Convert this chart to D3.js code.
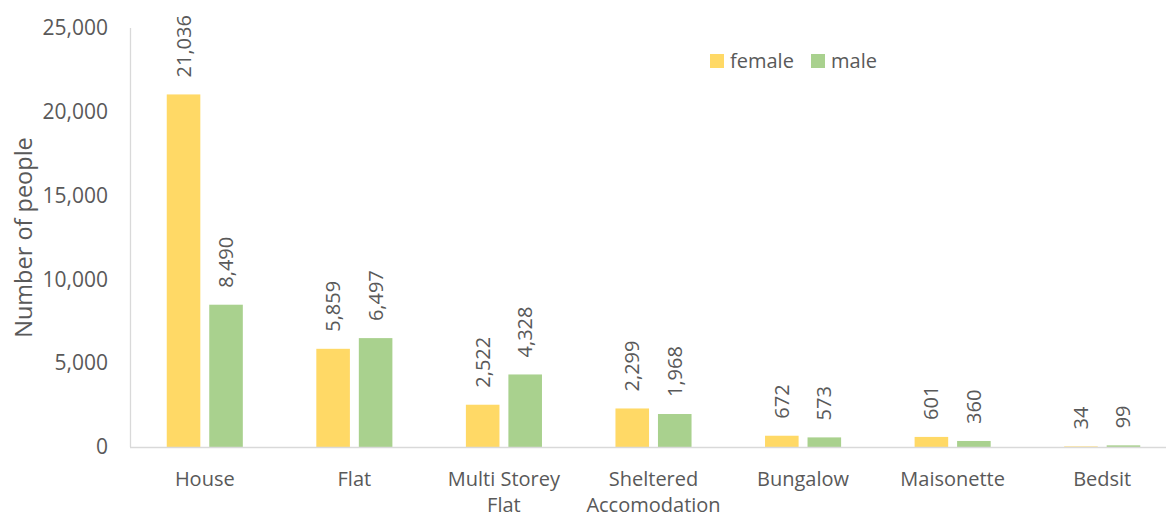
<!DOCTYPE html>
<html lang="en">
<head>
<meta charset="utf-8">
<title>Number of people by accommodation type</title>
<script src="https://cdn.jsdelivr.net/npm/d3@7"></script>
<style>
  body { margin: 0; background: #fff; }
  text { font-family: "Open Sans", sans-serif; fill: #595959; }
</style>
</head>
<body>
<script>
// data
var categories = ["House", "Flat", "Multi Storey Flat", "Sheltered Accomodation", "Bungalow", "Maisonette", "Bedsit"];
var female = [21036, 5859, 2522, 2299, 672, 601, 34];
var male = [8490, 6497, 4328, 1968, 573, 360, 99];
var seriesNames = ["female", "male"];
var yTicks = [0, 5000, 10000, 15000, 20000, 25000];

var w = 1166, h = 517;
var plotLeft = 130, plotRight = 1177, plotTop = 28, plotBottom = 447;
var colors = { female: "#FFD966", male: "#A9D18E" };
var fmt = d3.format(",");

var svg = d3.select("body").append("svg")
  .attr("width", w)
  .attr("height", h);

var x = d3.scaleBand()
  .domain(categories)
  .range([plotLeft, plotRight])
  .paddingInner(0.4914)
  .paddingOuter(0.2457);

var x1 = d3.scaleBand()
  .domain(seriesNames)
  .range([0, x.bandwidth()])
  .paddingInner(0.21);

var y = d3.scaleLinear()
  .domain([0, 25000])
  .range([plotBottom, plotTop]);

// y axis line
svg.append("line")
  .attr("x1", plotLeft + 0.5).attr("x2", plotLeft + 0.5)
  .attr("y1", plotTop).attr("y2", plotBottom)
  .attr("stroke", "#D9D9D9").attr("stroke-width", 1.3);

// y tick labels
var yAxis = d3.axisLeft(y).tickValues(yTicks).tickFormat(fmt).tickSize(0).tickPadding(22);
var gy = svg.append("g")
  .attr("transform", "translate(" + plotLeft + ",0)")
  .call(yAxis);
gy.select(".domain").remove();
gy.selectAll("text")
  .style("font-family", "'Open Sans', sans-serif")
  .style("font-size", "21px")
  .attr("fill", "#595959");

// rows of data
var rows = categories.map(function(c, i) {
  return { cat: c, values: [{ key: "female", v: female[i] }, { key: "male", v: male[i] }] };
});

var groups = svg.selectAll(".cat")
  .data(rows)
  .enter()
  .append("g")
  .attr("class", "cat")
  .attr("transform", function(d) { return "translate(" + x(d.cat) + ",0)"; });

groups.selectAll("rect")
  .data(function(d) { return d.values; })
  .enter()
  .append("rect")
  .attr("x", function(d) { return x1(d.key); })
  .attr("width", x1.bandwidth())
  .attr("y", function(d) { return y(d.v); })
  .attr("height", function(d) { return plotBottom - y(d.v); })
  .attr("fill", function(d) { return colors[d.key]; });

// value labels, rotated
groups.selectAll(".val")
  .data(function(d) { return d.values; })
  .enter()
  .append("text")
  .attr("class", "val")
  .attr("transform", function(d) {
    return "translate(" + (x1(d.key) + x1.bandwidth() / 2 + 7) + "," + (y(d.v) - 17) + ") rotate(-90)";
  })
  .attr("text-anchor", "start")
  .style("font-size", "20px")
  .text(function(d) { return fmt(d.v); });

// x axis line
svg.append("line")
  .attr("x1", plotLeft).attr("x2", plotRight)
  .attr("y1", plotBottom + 0.5).attr("y2", plotBottom + 0.5)
  .attr("stroke", "#D9D9D9").attr("stroke-width", 1.3);

// category labels (wrapped)
var wraps = {
  "Multi Storey Flat": ["Multi Storey", "Flat"],
  "Sheltered Accomodation": ["Sheltered", "Accomodation"]
};
var catLabels = svg.selectAll(".catlabel")
  .data(categories)
  .enter()
  .append("text")
  .attr("class", "catlabel")
  .attr("text-anchor", "middle")
  .attr("y", 486)
  .style("font-size", "20px");
catLabels.selectAll("tspan")
  .data(function(d) { return (wraps[d] || [d]).map(function(t) { return { c: d, t: t }; }); })
  .enter()
  .append("tspan")
  .attr("x", function(d) { return x(d.c) + x.bandwidth() / 2; })
  .attr("dy", function(d, i) { return i === 0 ? 0 : 26; })
  .text(function(d) { return d.t; });

// y axis title
svg.append("text")
  .attr("transform", "translate(32," + ((plotTop + plotBottom) / 2) + ") rotate(-90)")
  .attr("text-anchor", "middle")
  .style("font-size", "23.5px")
  .text("Number of people");

// legend
var legend = svg.append("g").attr("transform", "translate(710,54)");
var lx = [0, 101];
seriesNames.forEach(function(s, i) {
  legend.append("rect")
    .attr("x", lx[i]).attr("y", 0)
    .attr("width", 14).attr("height", 14)
    .attr("fill", colors[s]);
  legend.append("text")
    .attr("x", lx[i] + 20).attr("y", 14)
    .style("font-size", "20px")
    .text(s);
});
</script>
</body>
</html>
